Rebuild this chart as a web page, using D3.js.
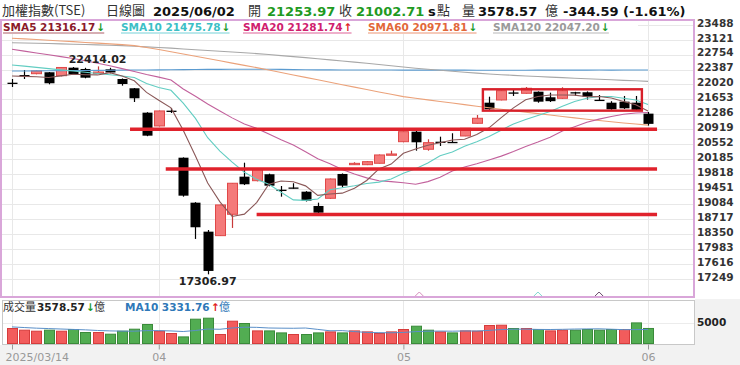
<!DOCTYPE html>
<html>
<head>
<meta charset="utf-8">
<script src="https://cdn.jsdelivr.net/npm/d3@7"></script>
<style>
  body { margin: 0; background: #fff; }
  svg { display: block; font-family: "DejaVu Sans", Verdana, sans-serif; }
  .cjk { font-family: "Noto Sans CJK TC", sans-serif; }
</style>
</head>
<body>
<div id="chart"></div>
<script>
// ---- data ----
const dates = ["03/14","03/17","03/18","03/19","03/20","03/21","03/24","03/25","03/26","03/27","03/28","03/31",
  "04/01","04/02","04/07","04/08","04/09","04/10","04/11","04/14","04/15","04/16","04/17","04/18","04/21","04/22",
  "04/23","04/24","04/25","04/28","04/29","04/30","05/02","05/05","05/06","05/07","05/08","05/09","05/12","05/13",
  "05/14","05/15","05/16","05/19","05/20","05/21","05/22","05/23","05/26","05/27","05/28","05/29","06/02"];

const open  = [22014,22203,22235,22270,22186,22383,22351,22240,22343,22105,21877,21278,20951,21327,20172,19067,18355,18257,18782,19706,19607,19765,19385,19440,19337,18986,19175,19772,20000,20000,20035,20250,20565,20811,20379,20565,20560,20705,21017,21523,21590,21775,21754,21793,21656,21631,21780,21779,21595,21523,21548,21523,21253.97];
const high  = [22105,22326,22314,22277,22400,22400,22380,22414.02,22380,22118,21884,21290,21330,21393,20180,19080,18396,19020,19550,20049,19900,19780,19477,19545,19350,19067,19660,19785,20060,20090,20250,20344,20820,20830,20624,20688,20772,20900,21221,21670,21830,21835,21909,21800,21769,21901,21790,21800,21712,21560,21688,21688,21295];
const low   = [21909,22105,22220,21975,22170,22204,22122,22230,22245,21941,21540,20700,20940,21270,19215,18176,17306.97,18250,18446,19500,19590,19470,19214,19410,19096,18814,19160,19445,19995,19990,20030,20240,20550,20344,20344,20460,20550,20700,21010,21350,21580,21688,21745,21523,21540,21620,21690,21600,21580,21350,21370,21330,20960];
const close = [22014,22203,22302,22000,22388,22221,22137,22277,22265,21982,21631,20713,21320,21327,19239,18463,17390,19011,19544,19519,19887,19485,19379,19436,19116,18821,19649,19485,20033,20074,20239,20263,20811,20550,20541,20565,20555,20894,21140,21361,21818,21769,21877,21548,21560,21818,21754,21670,21589,21361,21385,21347.30,21002.71];

const sma5   = [22180,22170,22160,22140,22181,22223,22210,22205,22260,22179,22061,21776,21585,21395,20846,20212,19548,19086,18729,18785,19070,19520,19600,19580,19480,19247,19280,19301,19421,19612,19896,20014,20279,20383,20476,20541,20606,20623,20741,20905,21156,21396,21593,21675,21712,21712,21709,21668,21676,21638,21552,21470,21316.17];
const sma10  = [22450,22420,22390,22360,22330,22300,22270,22240,22210,22180,22142,21993,21895,21827,21512,21137,20662,20335,20062,19816,19641,19519,19324,19135,19123,19159,19385,19432,19481,19537,19572,19647,19790,19902,20044,20219,20310,20451,20562,20691,20848,21001,21108,21208,21309,21434,21553,21630,21675,21675,21632,21590,21475.78];
const sma20  = [22835,22790,22745,22700,22655,22610,22555,22491,22430,22360,22290,22215,22150,22081,21860,21680,21490,21320,21150,20998,20892,20756,20610,20481,20318,20148,20023,19884,19772,19676,19607,19583,19557,19519,19584,19689,19847,19942,20021,20114,20210,20324,20449,20555,20676,20826,20931,21041,21119,21183,21240,21270,21281.74];
const sma60  = [23105,23090,23075,23058,23040,23022,23003,22985,22968,22950,22925,22880,22830,22775,22720,22665,22610,22555,22495,22440,22385,22325,22265,22205,22145,22085,22025,21965,21905,21845,21785,21730,21671,21632,21593,21554,21515,21476,21437,21398,21360,21325,21290,21255,21220,21185,21150,21118,21085,21055,21025,20998,20971.81];
const sma120 = [22997,22990,22983,22975,22968,22960,22952,22944,22935,22925,22910,22895,22880,22862,22843,22824,22805,22786,22767,22748,22729,22705,22680,22655,22630,22603,22575,22547,22519,22490,22460,22430,22400,22370,22343,22318,22294,22270,22248,22228,22210,22195,22180,22166,22152,22138,22124,22111,22098,22085,22072,22060,22047.20];
const sma240 = [22300,22302,22305,22307,22310,22312,22315,22317,22320,22322,22325,22327,22330,22332,22335,22337,22340,22342,22344,22345,22345,22344,22340,22336,22333,22330,22328,22327,22326,22325,22325,22324,22324,22323,22323,22322,22322,22322,22321,22321,22321,22321,22321,22322,22322,22322,22323,22323,22324,22324,22325,22325,22326];

const vol     = [3571,3167,2929,3167,2929,3333,2619,2619,2214,2929,3405,4524,2929,2381,1571,5786,6024,2143,5310,4762,3000,3000,2524,2143,2143,2524,2762,2524,3000,2762,2381,2762,3333,4119,3167,2762,2524,3000,2929,4286,4357,3571,3571,3333,3000,3167,3167,3333,3167,3333,3333,4905,3578.57];
const volMa10 = [3950,3800,3650,3550,3450,3350,3250,3100,3000,2950,2931,3067,3067,2988,2852,3098,3438,3391,3700,3884,3843,3691,3650,3626,3684,3357,3031,3069,2838,2638,2576,2553,2633,2831,2933,2957,2933,2981,2974,3126,3324,3405,3429,3350,3333,3374,3438,3471,3495,3400,3298,3310,3331.76];

const yTicks = [23488,23121,22754,22387,22020,21653,21286,20919,20552,20185,19818,19451,19084,18717,18350,17983,17616,17249];
const volTicks = [5000];
const xTickIdx = [0, 12, 32, 52];
const xTickText = ["2025/03/14", "04", "05", "06"];

// hand-drawn marks on the reference
const supportLevels = [20870, 19895, 18777];
const supportFrom = [9.65, 12.57, 20.0];
const supportTo = 52.74;
const boxFrom = 38.5, boxTo = 51.5, boxTop = 21852, boxBottom = 21327;
const crossIdx = [33.3, 43, 48];

// ---- layout ----
const W = 740, H = 365;
const svg = d3.select("#chart").append("svg").attr("width", W).attr("height", H);

svg.append("rect").attr("width", W).attr("height", H).attr("fill", "#fff");
svg.append("rect").attr("x", 0).attr("y", 345).attr("width", W).attr("height", 20).attr("fill", "#f2f2f2");
svg.append("rect").attr("x", 695).attr("y", 299).attr("width", 45).attr("height", 46).attr("fill", "#f2f2f2");

const x = d3.scaleLinear().domain([0, dates.length - 1]).range([12, 648]);
const y = d3.scaleLinear().domain([16750, 23554]).range([297, 20]);
const yv = d3.scaleLinear().domain([0, 5000]).range([343.5, 322.5]);
const last = dates.length - 1;
const f2 = v => v.toFixed(2);

// grid
const grid = svg.append("g");
grid.selectAll("line.h").data(yTicks).join("line")
  .attr("x1", 2).attr("x2", 694)
  .attr("y1", d => Math.round(y(d) + 2) + 0.5).attr("y2", d => Math.round(y(d) + 2) + 0.5)
  .attr("stroke", "#e8e8e8");
grid.selectAll("line.v").data(xTickIdx).join("line")
  .attr("x1", d => Math.round(x(d)) + 0.5).attr("x2", d => Math.round(x(d)) + 0.5)
  .attr("y1", 21).attr("y2", 297)
  .attr("stroke", "#e8e8e8");

// right axis
const yAxis = svg.append("g").attr("transform", "translate(695,0)")
  .call(d3.axisRight(y).tickValues(yTicks).tickSize(0).tickPadding(2).tickFormat(d3.format("d")));
yAxis.select(".domain").remove();
yAxis.selectAll("text").attr("font-size", 10.5).attr("font-weight", "bold")
  .attr("fill", "#333").attr("font-family", "DejaVu Sans");

// MA lines
const line = arr => d3.line().x((d, i) => x(i)).y(d => y(d))(arr);
const maLines = [
  { data: sma240, color: "#5b9bd0" },
  { data: sma120, color: "#a8a8a8" },
  { data: sma60, color: "#eba27a" },
  { data: sma20, color: "#c2619c" },
  { data: sma10, color: "#62cdc2" },
  { data: sma5, color: "#8a5858" }
];

// candles
const idx = d3.range(dates.length);
const up = i => close[i] > open[i];
const cg = svg.append("g").selectAll("g").data(idx).join("g");
cg.append("line")
  .attr("x1", i => Math.round(x(i)) + 0.5).attr("x2", i => Math.round(x(i)) + 0.5)
  .attr("y1", i => y(high[i])).attr("y2", i => y(low[i]))
  .attr("stroke", i => up(i) ? "#c83a3a" : "#000").attr("stroke-width", 1.2);
cg.append("rect")
  .attr("x", i => Math.round(x(i)) - 4.5).attr("width", 10)
  .attr("y", i => y(Math.max(open[i], close[i])))
  .attr("height", i => Math.max(1.3, Math.abs(y(open[i]) - y(close[i]))))
  .attr("fill", i => up(i) ? "#f47a7a" : "#000")
  .attr("stroke", i => up(i) ? "#e04848" : "none");

svg.append("g").selectAll("path").data(maLines).join("path")
  .attr("d", d => line(d.data)).attr("fill", "none")
  .attr("stroke", d => d.color).attr("stroke-width", 1.1);

// high / low labels
const hi = d3.maxIndex(high), lo = d3.minIndex(low);
svg.append("text").attr("x", x(hi)).attr("y", y(high[hi]) - 3).attr("text-anchor", "middle")
  .attr("font-size", 11).attr("font-weight", "bold").attr("fill", "#222").text(f2(high[hi]));
svg.append("text").attr("x", x(lo)).attr("y", y(low[lo]) + 11).attr("text-anchor", "middle")
  .attr("font-size", 11).attr("font-weight", "bold").attr("fill", "#222").text(f2(low[lo]));

// cross markers at the bottom of the price panel
const crossColors = ["#d68cbc", "#7fd8d0", "#6a4a6a"];
svg.append("g").selectAll("path").data(crossIdx).join("path")
  .attr("d", d => `M${x(d) - 4},296 L${x(d)},292 L${x(d) + 4},296`)
  .attr("fill", "none").attr("stroke", (d, i) => crossColors[i]).attr("stroke-width", 1);

// hand-drawn support lines and box
svg.append("g").selectAll("line").data(supportLevels).join("line")
  .attr("x1", (d, i) => x(supportFrom[i])).attr("x2", x(supportTo))
  .attr("y1", d => y(d)).attr("y2", d => y(d))
  .attr("stroke", "#e0222c").attr("stroke-width", 3.6);
svg.append("rect")
  .attr("x", x(boxFrom)).attr("y", y(boxTop))
  .attr("width", x(boxTo) - x(boxFrom)).attr("height", y(boxBottom) - y(boxTop))
  .attr("fill", "none").attr("stroke", "#d8202a").attr("stroke-width", 2.4);

// price frame
svg.append("rect").attr("x", 1).attr("y", 20).attr("width", 693).attr("height", 277)
  .attr("fill", "none").attr("stroke", "#d9a6d9").attr("stroke-width", 2);

// MA legend row
svg.append("rect").attr("x", 2).attr("y", 21).attr("width", 636).attr("height", 13).attr("fill", "#fff");
const legend = [
  { name: "SMA5", data: sma5, color: "#8b1a2a", x: 3 },
  { name: "SMA10", data: sma10, color: "#3cbfc6", x: 121 },
  { name: "SMA20", data: sma20, color: "#d0206e", x: 243 },
  { name: "SMA60", data: sma60, color: "#e2683a", x: 368 },
  { name: "SMA120", data: sma120, color: "#9a9a9a", x: 493 }
];
legend.forEach(l => {
  const v = l.data[last], p = l.data[last - 1];
  const t = svg.append("text").attr("x", l.x).attr("y", 30.5)
    .attr("font-size", 10.5).attr("font-weight", "bold").attr("fill", l.color)
    .text(`${l.name} ${f2(v)}`);
  const w = t.node().getComputedTextLength();
  svg.append("text").attr("x", l.x + w + 1).attr("y", 30.5)
    .attr("font-size", 10.5).attr("font-weight", "bold")
    .attr("fill", v >= p ? "#e02020" : "#1a9a2a").text(v >= p ? "↑" : "↓");
  svg.append("line").attr("x1", l.x).attr("x2", l.x + w + 9).attr("y1", 33).attr("y2", 33)
    .attr("stroke", l.color).attr("stroke-opacity", 0.7).attr("stroke-width", 1.2);
});

// title row
const chg = close[last] - close[last - 1];
const title = [
  { t: "加權指數(TSE)", x: 2, cjk: true },
  { t: "日線圖", x: 106, cjk: true },
  { t: "2025/06/02", x: 153 },
  { t: "開", x: 248, cjk: true },
  { t: f2(open[last]), x: 267, color: "#1f9a1f" },
  { t: "收", x: 339, cjk: true },
  { t: f2(close[last]), x: 356, color: "#1f9a1f" },
  { t: "s", x: 428 },
  { t: "點", x: 437, cjk: true },
  { t: "量", x: 462, cjk: true },
  { t: f2(vol[last]), x: 478 },
  { t: "億", x: 545, cjk: true },
  { t: `${f2(chg)} (${f2(chg / close[last - 1] * 100)}%)`, x: 563 }
];
svg.append("g").selectAll("text").data(title).join("text")
  .attr("x", d => d.x).attr("y", d => d.cjk ? 15 : 15.5)
  .attr("class", d => d.cjk ? "cjk" : null)
  .attr("font-size", 13)
  .attr("font-weight", d => d.cjk ? "normal" : "bold")
  .attr("fill", d => d.color || (d.cjk ? "#333" : "#111"))
  .text(d => d.t);

// ---- volume panel ----
svg.append("rect").attr("x", 2.5).attr("y", 300.5).attr("width", 692).attr("height", 44)
  .attr("fill", "#fff").attr("stroke", "#c8c8c8");
svg.append("g").selectAll("line").data(volTicks).join("line")
  .attr("x1", 3).attr("x2", 694).attr("y1", d => Math.round(yv(d)) + 0.5).attr("y2", d => Math.round(yv(d)) + 0.5)
  .attr("stroke", "#ececec");
svg.append("g").selectAll("line").data(xTickIdx).join("line")
  .attr("x1", d => Math.round(x(d)) + 0.5).attr("x2", d => Math.round(x(d)) + 0.5)
  .attr("y1", 301).attr("y2", 344).attr("stroke", "#e8e8e8");

const volUp = i => i === 0 || close[i] >= close[i - 1];
svg.append("g").selectAll("rect").data(idx).join("rect")
  .attr("x", i => Math.round(x(i)) - 4.5).attr("width", 10)
  .attr("y", i => yv(vol[i])).attr("height", i => yv(0) - yv(vol[i]))
  .attr("fill", i => volUp(i) ? "#f25c5c" : "#52ad52")
  .attr("stroke", i => volUp(i) ? "#d63c3c" : "#3a8a3a").attr("stroke-width", 1);
svg.append("path")
  .attr("d", d3.line().x((d, i) => x(i)).y(d => yv(d))(volMa10))
  .attr("fill", "none").attr("stroke", "#5a8fc8").attr("stroke-width", 1);

const vAxis = svg.append("g").attr("transform", "translate(695,0)")
  .call(d3.axisRight(yv).tickValues(volTicks).tickSize(0).tickPadding(2).tickFormat(d3.format("d")));
vAxis.select(".domain").remove();
vAxis.selectAll("text").attr("font-size", 10.5).attr("font-weight", "bold")
  .attr("fill", "#222").attr("font-family", "DejaVu Sans");

// volume legend
const vl = svg.append("g");
vl.append("text").attr("x", 3).attr("y", 311).attr("class", "cjk").attr("font-size", 11).attr("fill", "#333").text("成交量");
vl.append("text").attr("x", 37).attr("y", 311).attr("font-size", 10.5).attr("font-weight", "bold").attr("fill", "#222").text(f2(vol[last]));
vl.append("text").attr("x", 86).attr("y", 311).attr("font-size", 10.5).attr("font-weight", "bold")
  .attr("fill", vol[last] >= vol[last - 1] ? "#e02020" : "#1a9a2a").text(vol[last] >= vol[last - 1] ? "↑" : "↓");
vl.append("text").attr("x", 94).attr("y", 311).attr("class", "cjk").attr("font-size", 11).attr("fill", "#333").text("億");
vl.append("text").attr("x", 125).attr("y", 311).attr("font-size", 10.5).attr("font-weight", "bold").attr("fill", "#2f78b8")
  .text(`MA10 ${f2(volMa10[last])}`);
vl.append("text").attr("x", 211).attr("y", 311).attr("font-size", 10.5).attr("font-weight", "bold")
  .attr("fill", volMa10[last] >= volMa10[last - 1] ? "#e02020" : "#1a9a2a").text(volMa10[last] >= volMa10[last - 1] ? "↑" : "↓");
vl.append("text").attr("x", 219).attr("y", 311).attr("class", "cjk").attr("font-size", 11).attr("fill", "#2f78b8").text("億");

// date axis
const xAxis = svg.append("g").attr("transform", "translate(0,344.5)")
  .call(d3.axisBottom(x).tickValues(xTickIdx).tickSize(5).tickPadding(4)
    .tickFormat((d, i) => xTickText[i]));
xAxis.select(".domain").remove();
xAxis.selectAll("line").attr("stroke", "#999");
xAxis.selectAll("text").attr("font-size", 11).attr("fill", "#999").attr("font-family", "DejaVu Sans");
xAxis.select(".tick text").attr("text-anchor", "start").attr("x", -7);
</script>
</body>
</html>
